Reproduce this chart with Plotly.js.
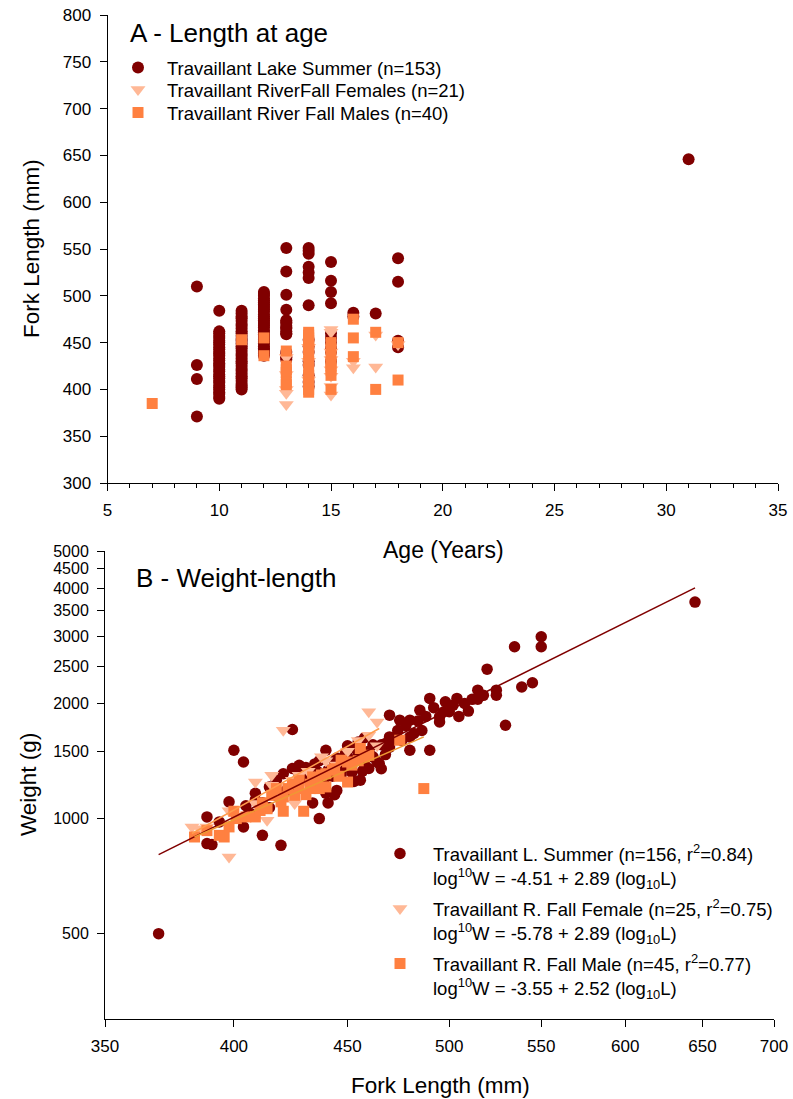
<!DOCTYPE html>
<html><head><meta charset="utf-8">
<script src="https://cdn.plot.ly/plotly-3.0.1.min.js"></script>
<style>html,body{margin:0;padding:0;background:#fff}#chart{width:793px;height:1099px}</style>
</head><body><div id="chart"></div>
<script>
// ---------- Panel A: length at age ----------
const lakeAgesA = [9, 10, 11, 12, 13, 14, 15, 16, 17, 18, 31];
const lakeLensA = [
  [510, 426, 411, 371],
  [484, 462, 460, 457, 455, 452, 450, 448, 445, 443, 440, 438, 436, 433, 431, 428, 426, 424, 421, 419, 416, 414, 412, 409, 407, 404, 402, 400, 397, 395, 392, 390],
  [484, 481, 478, 476, 473, 470, 468, 465, 462, 460, 457, 454, 452, 449, 446, 444, 441, 438, 436, 433, 430, 428, 425, 422, 420, 417, 414, 412, 409, 406, 404, 402, 400],
  [504, 502, 500, 497, 495, 493, 491, 489, 487, 485, 483, 480, 478, 476, 474, 472, 470, 468, 466, 463, 461, 459, 457, 455, 453, 451, 449, 446, 444, 442, 440, 438, 436],
  [551, 526, 501, 485, 474, 472, 471, 468, 466, 465, 462, 460, 459, 440, 437, 435, 434, 432],
  [551, 548, 545, 531, 525, 519, 490, 453, 446, 440, 430, 426, 415, 408, 403],
  [536, 516, 504, 492, 460, 455, 450, 444, 440, 430],
  [482, 478],
  [481],
  [540, 515, 452, 445],
  [646]
];
const femAgesA = [13, 14, 15, 16, 17, 18];
const femLensA = [
  [434, 416, 400, 396, 384],
  [445, 430, 410],
  [464, 461, 440, 432, 421, 414, 403, 394],
  [430, 423],
  [458, 424],
  [448]
];
const maleAgesA = [7, 11, 12, 13, 14, 15, 16, 17, 18];
const maleLensA = [
  [385],
  [453],
  [455, 436],
  [441, 425, 421, 418, 408, 405],
  [461, 458, 455, 452, 449, 446, 443, 438, 430, 422, 415, 410, 405, 400, 397],
  [450, 443, 436, 429, 425, 422, 415, 400],
  [475, 455, 435],
  [461, 400],
  [450, 410]
];

// ---------- Panel B: weight-length ----------
const lakeLenB = [370,645,550,550,535,520,545,539,525,525,
  515,515,530,510,504,498,500,495,495,490,
  490,485,480,480,470,475,482,470,465,425,
  400,404,398,389,389,391,404,412,420,437,
  434,441,444,456,460,464,470,473,440,450,
  455,458,415,409,418,421,425,428,431,435,
  437,441,448,451,440,445,407,415,470,468,
  480,450,455,460,462,466,468,452,457,445,
  443,447,462,458,453,466,430,433,427,422,
  418,412,409,405,394,428,436,439,444,446,
  449,454,459,474,478,476,484,488,492,497,
  502,508,512,518,505,486];
const lakeWtB = [500,3683,2988,2815,2815,2459,2265,2209,2167,2102,
  2167,2052,1754,1910,2062,2020,1902,1845,1790,2062,
  1509,1921,1809,1509,1864,1809,1669,1538,1393,1710,
  1509,1406,1106,1010,860,855,951,904,851,1000,
  1099,1099,1155,1260,1352,1406,1586,1635,1509,1550,
  1586,1627,1210,1165,1260,1310,1352,1379,1361,1390,
  1416,1337,1363,1405,1165,1185,1030,1068,1635,1571,
  1635,1450,1480,1500,1450,1560,1470,1320,1330,1440,
  1290,1300,1560,1380,1250,1350,1290,1240,1200,1180,
  1150,1100,1120,1080,980,1300,1330,1250,1410,1360,
  1480,1520,1440,1700,1750,1600,1800,1850,1950,1900,
  1980,2000,2050,2100,1850,1700];
const femLenB = [383,389,386,398,414,409,416,421,426,428,438,440,460,464,460,464,409,398,416,425,432,445,450,455,418];
const femWtB  = [951,951,940,793,990,1246,1299,1702,1095,1299,1450,1416,1902,1790,1652,1550,1095,1048,1222,1260,1330,1380,1500,1600,1150];
const maleLenB = [384,396,398,400,405,409,414,420,421,430,418,423,428,433,437,440,421,431,434,440,443,450,455,458,450,456,460,475,487,394,412,416,425,428,436,438,444,446,452,447,426,433,411,401,389];
const maleWtB  = [895,895,951,1045,1010,1010,1061,1106,1045,1045,1198,1198,1198,1198,1198,1210,1139,1155,1285,1310,1337,1406,1416,1450,1246,1524,1465,1603,1198,904,1100,1150,1230,1260,1260,1300,1350,1290,1380,1420,1150,1230,1050,1000,930];

// regression lines (end points)
const lakeFitL = [370, 645], lakeFitW = [805, 4010];
const femFitL  = [383, 465], femFitW  = [914, 1720];
const maleFitL = [384, 487], maleFitW = [895, 1635];

const namesA = ['Travaillant Lake Summer (n=153)', 'Travaillant RiverFall Females (n=21)', 'Travaillant River Fall Males (n=40)'];
const namesB = [
  'Travaillant L. Summer (n=156, r<sup>2</sup>=0.84)<br>log<sup>10</sup>W = -4.51 + 2.89 (log<sub>10</sub>L)',
  'Travaillant R. Fall Female (n=25, r<sup>2</sup>=0.75)<br>log<sup>10</sup>W = -5.78 + 2.89 (log<sub>10</sub>L)',
  'Travaillant R. Fall Male (n=45, r<sup>2</sup>=0.77)<br>log<sup>10</sup>W = -3.55 + 2.52 (log<sub>10</sub>L)'
];
const xTicksA = [5, 10, 15, 20, 25, 30, 35];
const xTicksB = [350, 400, 450, 500, 550, 600, 650, 700];
const yTicksB = [500, 1000, 1500, 2000, 2500, 3000, 3500, 4000, 4500, 5000];

const C_LAKE = '#800000', C_FEM = '#FFB896', C_MALE = '#FF8040';

function expand(ages, lists) {
  const x = [], y = [];
  ages.forEach((a, i) => lists[i].forEach(v => { x.push(a); y.push(v); }));
  return {x, y};
}
const lA = expand(lakeAgesA, lakeLensA), fA = expand(femAgesA, femLensA), mA = expand(maleAgesA, maleLensA);

const W = 793, H = 1099;
const px = v => v / W, py = v => 1 - v / H;
const FONT = 'Liberation Sans, Arial, sans-serif';

const traces = [
  {x: lA.x, y: lA.y, type: 'scatter', mode: 'markers', name: namesA[0], xaxis: 'x', yaxis: 'y',
   marker: {symbol: 'circle', size: 12, color: C_LAKE}, legend: 'legend'},
  {x: fA.x, y: fA.y, type: 'scatter', mode: 'markers', name: namesA[1], xaxis: 'x', yaxis: 'y',
   marker: {symbol: 'triangle-down', size: 13, color: C_FEM}, legend: 'legend2'},
  {x: mA.x, y: mA.y, type: 'scatter', mode: 'markers', name: namesA[2], xaxis: 'x', yaxis: 'y',
   marker: {symbol: 'square', size: 11, color: C_MALE}, legend: 'legend3'},

  {x: lakeLenB, y: lakeWtB, type: 'scatter', mode: 'markers', name: namesB[0], xaxis: 'x2', yaxis: 'y2',
   marker: {symbol: 'circle', size: 11.5, color: C_LAKE}, legend: 'legend4'},
  {x: femLenB, y: femWtB, type: 'scatter', mode: 'markers', name: namesB[1], xaxis: 'x2', yaxis: 'y2',
   marker: {symbol: 'triangle-down', size: 13, color: C_FEM}, legend: 'legend5'},
  {x: maleLenB, y: maleWtB, type: 'scatter', mode: 'markers', name: namesB[2], xaxis: 'x2', yaxis: 'y2',
   marker: {symbol: 'square', size: 11, color: C_MALE}, legend: 'legend6'},
  {x: lakeFitL, y: lakeFitW, type: 'scatter', mode: 'lines', xaxis: 'x2', yaxis: 'y2', showlegend: false,
   line: {color: C_LAKE, width: 1.5}},
  {x: maleFitL, y: maleFitW, type: 'scatter', mode: 'lines', xaxis: 'x2', yaxis: 'y2', showlegend: false,
   line: {color: '#EE9933', width: 1.5}},
  {x: femFitL, y: femFitW, type: 'scatter', mode: 'lines', xaxis: 'x2', yaxis: 'y2', showlegend: false,
   line: {color: '#FF9D4D', width: 1.5}}
];

const axBase = {showgrid: false, zeroline: false, showline: true, linecolor: '#000', linewidth: 1,
  ticks: 'outside', ticklen: 7, tickcolor: '#000', tickfont: {family: FONT, size: 17, color: '#000'}, mirror: false};

function leg(xPix, yTopPix, iw) {
  return {x: px(xPix), y: py(yTopPix), xanchor: 'left', yanchor: 'top', bgcolor: 'rgba(0,0,0,0)', valign: 'top',
    font: {family: FONT, size: 18.5, color: '#000'}, itemwidth: iw, tracegroupgap: 0};
}

const layout = {
  width: W, height: H, margin: {l: 0, r: 0, t: 0, b: 0}, paper_bgcolor: '#fff', plot_bgcolor: '#fff',
  font: {family: FONT, color: '#000'},
  xaxis: Object.assign({}, axBase, {domain: [px(107.5), px(778)], range: [5, 35], tickvals: xTicksA,
    ticklabelstandoff: 5,
    minor: {dtick: 1, ticks: 'outside', ticklen: 4, tickcolor: '#000', showgrid: false}, anchor: 'y'}),
  yaxis: Object.assign({}, axBase, {domain: [py(483), py(15)], range: [300, 800], dtick: 50, tick0: 300,
    ticklabelstandoff: 5, anchor: 'x'}),
  xaxis2: Object.assign({}, axBase, {domain: [px(105), px(774)], type: 'log', range: [Math.log10(350), Math.log10(700)],
    tickvals: xTicksB, ticktext: xTicksB.map(String), ticklabelstandoff: 5, anchor: 'y2'}),
  yaxis2: Object.assign({}, axBase, {domain: [py(1018.5), py(551.3)], type: 'log', range: [Math.log10(300), Math.log10(5000)],
    tickvals: yTicksB, ticktext: yTicksB.map(String), ticklabelstandoff: 5,
    tickfont: {family: FONT, size: 16, color: '#000'}, anchor: 'x2'}),
  legend:  leg(109, 49, 48),
  legend2: leg(109, 71, 48),
  legend3: leg(109, 94, 48),
  legend4: leg(367, 835, 56),
  legend5: leg(367, 890, 56),
  legend6: leg(367, 945, 56),
  showlegend: true,
  annotations: [
    {text: 'A - Length at age', x: px(128), y: py(33), xref: 'paper', yref: 'paper', xanchor: 'left', yanchor: 'middle',
     showarrow: false, font: {family: FONT, size: 26, color: '#000'}},
    {text: 'B - Weight-length', x: px(134), y: py(578), xref: 'paper', yref: 'paper', xanchor: 'left', yanchor: 'middle',
     showarrow: false, font: {family: FONT, size: 26, color: '#000'}},
    {text: 'Age (Years)', x: px(443), y: py(550), xref: 'paper', yref: 'paper', xanchor: 'center', yanchor: 'middle',
     showarrow: false, font: {family: FONT, size: 23, color: '#000'}},
    {text: 'Fork Length (mm)', x: px(32), y: py(249), xref: 'paper', yref: 'paper', xanchor: 'center', yanchor: 'middle',
     textangle: -90, showarrow: false, font: {family: FONT, size: 22.5, color: '#000'}},
    {text: 'Weight (g)', x: px(28), y: py(785), xref: 'paper', yref: 'paper', xanchor: 'center', yanchor: 'middle',
     textangle: -90, showarrow: false, font: {family: FONT, size: 22.5, color: '#000'}},
    {text: 'Fork Length (mm)', x: px(440), y: py(1085), xref: 'paper', yref: 'paper', xanchor: 'center', yanchor: 'middle',
     showarrow: false, font: {family: FONT, size: 22.5, color: '#000'}}
  ]
};

Plotly.newPlot('chart', traces, layout, {displayModeBar: false, staticPlot: true});
</script>
</body></html>
